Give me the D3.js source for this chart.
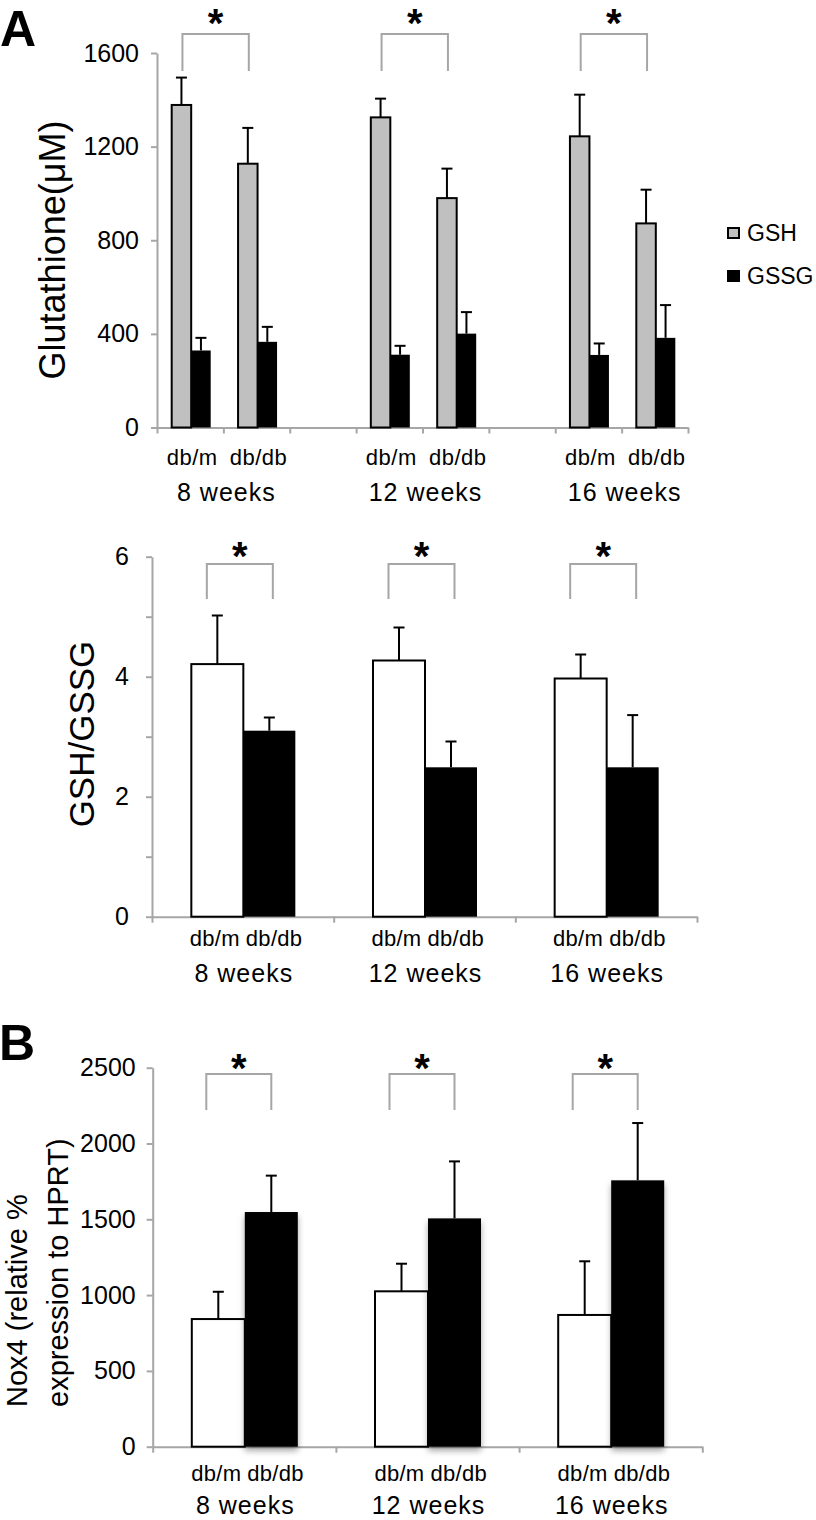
<!DOCTYPE html>
<html>
<head>
<meta charset="utf-8">
<script src="https://cdn.jsdelivr.net/npm/d3@7"></script>
<style>
  html, body { margin: 0; padding: 0; background: #fff; }
  svg { display: block; font-family: "Liberation Sans", Arial, Helvetica, sans-serif; }
</style>
</head>
<body>
<svg id="chart" width="816" height="1520"></svg>
<script>
// ---------------- data ----------------
const weeks = ["8 weeks", "12 weeks", "16 weeks"];
const genotypes = ["db/m", "db/db"];
// order: 8w db/m, 8w db/db, 12w db/m, 12w db/db, 16w db/m, 16w db/db
const gshMean  = [1378, 1127, 1325, 980, 1244, 872];
const gshErr   = [117, 153, 80, 126, 178, 144];
const gssgMean = [329, 366, 311, 401, 310, 383];
const gssgErr  = [54, 64, 38, 92, 49, 140];
const ratioMean = [4.21, 3.10, 4.27, 2.49, 3.97, 2.49];
const ratioErr  = [0.81, 0.22, 0.55, 0.43, 0.40, 0.87];
const nox4Mean = [842, 1548, 1025, 1506, 869, 1757];
const nox4Err  = [180, 240, 182, 376, 354, 378];
const gshTicks = [0, 400, 800, 1200, 1600];
const ratioTicks = [0, 1, 2, 3, 4, 5, 6];
const nox4Ticks = [0, 500, 1000, 1500, 2000, 2500];
const legendItems = ["GSH", "GSSG"];
const panelLetters = ["A", "B"];
const yTitles = { gsh: "Glutathione(μM)", ratio: "GSH/GSSG", nox4: ["Nox4 (relative %", "expression to HPRT)"] };

// ---------------- setup ----------------
const svg = d3.select("#chart");
const AXIS = "#a6a6a6";
const GREY_BAR = "#c0c0c0";

const defs = svg.append("defs");
const f = defs.append("filter").attr("id", "shadow").attr("x", "-20%").attr("y", "-10%").attr("width", "140%").attr("height", "130%");
f.append("feDropShadow").attr("dx", 0).attr("dy", 4).attr("stdDeviation", 3).attr("flood-color", "#000").attr("flood-opacity", 0.35);

function styleAxis(g) {
  g.select(".domain").attr("stroke", AXIS).attr("stroke-width", 2);
  g.selectAll(".tick line").attr("stroke", AXIS).attr("stroke-width", 2);
}

function yAxis(y, x0, ticks, fmt, pad, fs) {
  const g = svg.append("g").attr("transform", `translate(${x0},0)`)
    .call(d3.axisLeft(y).tickValues(ticks).tickSize(6).tickSizeOuter(0).tickPadding(pad).tickFormat(fmt));
  styleAxis(g);
  g.attr("font-size", fs).attr("font-family", "Liberation Sans, Arial, sans-serif");
  g.selectAll(".tick text").attr("fill", "#000").attr("font-size", fs);
  return g;
}

function xAxis(x0, x1, yb, n) {
  const s = d3.scaleLinear().domain([0, n]).range([x0, x1]);
  const g = svg.append("g").attr("transform", `translate(0,${yb})`)
    .call(d3.axisBottom(s).tickValues(d3.range(n + 1)).tickSize(6).tickSizeOuter(0).tickFormat(""));
  styleAxis(g);
}

function errBar(cx, yTop, yBase, cap) {
  svg.append("line").attr("x1", cx).attr("x2", cx).attr("y1", yBase).attr("y2", yTop)
    .attr("stroke", "#000").attr("stroke-width", 2);
  svg.append("line").attr("x1", cx - cap / 2).attr("x2", cx + cap / 2).attr("y1", yTop).attr("y2", yTop)
    .attr("stroke", "#000").attr("stroke-width", 2);
}

function bracket(xa, xb, top, bottom, starBase) {
  svg.append("path").attr("d", `M${xa},${bottom}V${top}H${xb}V${bottom}`)
    .attr("fill", "none").attr("stroke", AXIS).attr("stroke-width", 2);
  svg.append("text").attr("x", (xa + xb) / 2).attr("y", starBase).attr("text-anchor", "middle")
    .attr("font-size", 40).attr("font-weight", "bold").text("*");
}

function yTitle(txt, x, y, fs, anchor) {
  svg.append("text").attr("transform", `translate(${x},${y}) rotate(-90)`)
    .attr("text-anchor", anchor || "middle").attr("font-size", fs).text(txt);
}

// ---------------- Panel A (top): GSH & GSSG ----------------
{
  const x0 = 157, x1 = 688, yTop = 53, yBot = 427.5;
  const y = d3.scaleLinear().domain([0, 1600]).range([yBot, yTop]);
  const slots = d3.range(8);
  const x = d3.scaleBand().domain(slots).range([x0, x1]).paddingInner(0).paddingOuter(0);
  const bw = 19.5;
  const slotOf = i => Math.floor(i / 2) * 3 + (i % 2);

  xAxis(x0, x1, yBot, 8);
  yAxis(y, x0, gshTicks, d => d, 12, 25);

  gshMean.forEach((v, i) => {
    const c = x(slotOf(i)) + x.bandwidth() / 2 + 1;
    svg.append("rect").attr("x", c - bw).attr("y", y(v)).attr("width", bw).attr("height", yBot - y(v))
      .attr("fill", GREY_BAR).attr("stroke", "#000").attr("stroke-width", 2);
    errBar(c - bw / 2, y(v + gshErr[i]), y(v), 11);
  });
  gssgMean.forEach((v, i) => {
    const c = x(slotOf(i)) + x.bandwidth() / 2 + 1;
    svg.append("rect").attr("x", c).attr("y", y(v)).attr("width", bw).attr("height", yBot - y(v))
      .attr("fill", "#000");
    errBar(c + bw / 2, y(v + gssgErr[i]), y(v), 11);
  });

  // genotype labels
  gshMean.forEach((v, i) => {
    svg.append("text").attr("x", x(slotOf(i)) + x.bandwidth() / 2 + 2).attr("y", 465)
      .attr("text-anchor", "middle").attr("font-size", 22).attr("letter-spacing", 0.5)
      .text(genotypes[i % 2]);
  });
  weeks.forEach((w, k) => {
    const cx = x(k * 3) + x.bandwidth() + 3;
    svg.append("text").attr("x", cx).attr("y", 501).attr("text-anchor", "middle")
      .attr("font-size", 25).attr("letter-spacing", 1).text(w);
    const xa = x(k * 3) + x.bandwidth() / 2 + 1 - bw / 2;
    const xb = x(k * 3 + 1) + x.bandwidth() / 2 + 1 - bw / 2;
    bracket(xa + 1, xb + 1, 34, 71, 37);
  });

  yTitle(yTitles.gsh, 65, 250, 36);

  // legend
  legendItems.forEach((t, i) => {
    const ly = 233 + i * 43;
    svg.append("rect").attr("x", 728).attr("y", ly - 5).attr("width", 11).attr("height", 10)
      .attr("fill", i === 0 ? GREY_BAR : "#000").attr("stroke", "#000").attr("stroke-width", 2);
    svg.append("text").attr("x", 747).attr("y", ly + 8).attr("font-size", 23).text(t);
  });
}

// ---------------- Panel A (bottom) & B: grouped panels ----------------
function groupPanel(opt) {
  const { x0, x1, yTop, yBot, max, ticks, fmt, mean, err, bw, pad, fs, shadow,
          brTop, brBot, starBase, labY, weekY, brL, brR } = opt;
  const y = d3.scaleLinear().domain([0, max]).range([yBot, yTop]);
  const x = d3.scaleBand().domain(weeks).range([x0, x1]).paddingInner(0).paddingOuter(0);
  xAxis(x0, x1, yBot, 3);
  yAxis(y, x0, ticks, fmt, pad, fs);
  mean.forEach((v, i) => {
    const gc = x(weeks[Math.floor(i / 2)]) + x.bandwidth() / 2 + 0.5;
    const g = i % 2;
    const bx = g === 0 ? gc - bw : gc;
    const r = svg.append("rect").attr("x", bx).attr("y", y(v)).attr("width", bw).attr("height", yBot - y(v));
    if (g === 0) r.attr("fill", "#fff").attr("stroke", "#000").attr("stroke-width", 2);
    else { r.attr("fill", "#000"); if (shadow) r.attr("filter", "url(#shadow)"); }
    errBar(bx + bw / 2, y(v + err[i]), y(v), 11);
  });
  weeks.forEach((w, k) => {
    const gc = x(w) + x.bandwidth() / 2;
    svg.append("text").attr("x", gc - 3).attr("y", labY).attr("text-anchor", "end")
      .attr("font-size", 22).attr("letter-spacing", 0.3).text(genotypes[0]);
    svg.append("text").attr("x", gc + 3).attr("y", labY).attr("text-anchor", "start")
      .attr("font-size", 22).attr("letter-spacing", 0.3).text(genotypes[1]);
    svg.append("text").attr("x", gc + 1).attr("y", weekY).attr("text-anchor", "middle")
      .attr("font-size", 25).attr("letter-spacing", 1).text(w);
    bracket(gc + brL, gc + brR, brTop, brBot, starBase);
  });
}

groupPanel({
  x0: 152, x1: 697, yTop: 556.7, yBot: 916.7, max: 6, ticks: ratioTicks,
  fmt: d => (d % 2 === 0 ? d : ""), mean: ratioMean, err: ratioErr, bw: 52, pad: 17, fs: 25,
  shadow: false, brTop: 564, brBot: 599, starBase: 570, labY: 946, weekY: 982, brL: -36, brR: 30
});
yTitle(yTitles.ratio, 94, 734, 35);

groupPanel({
  x0: 152.7, x1: 702.3, yTop: 1067.7, yBot: 1446.7, max: 2500, ticks: nox4Ticks,
  fmt: d => d, mean: nox4Mean, err: nox4Err, bw: 53, pad: 11, fs: 25,
  shadow: true, brTop: 1074, brBot: 1110, starBase: 1082, labY: 1481, weekY: 1514, brL: -38, brR: 27
});
svg.append("text").attr("transform", "translate(27,1407) rotate(-90)").attr("font-size", 29).text(yTitles.nox4[0]);
svg.append("text").attr("transform", "translate(68,1407) rotate(-90)").attr("font-size", 29).text(yTitles.nox4[1]);

// panel letters
svg.append("text").attr("x", 0).attr("y", 46).attr("font-size", 50).attr("font-weight", "bold").text(panelLetters[0]);
svg.append("text").attr("x", -1).attr("y", 1060).attr("font-size", 50).attr("font-weight", "bold").text(panelLetters[1]);
</script>
</body>
</html>
